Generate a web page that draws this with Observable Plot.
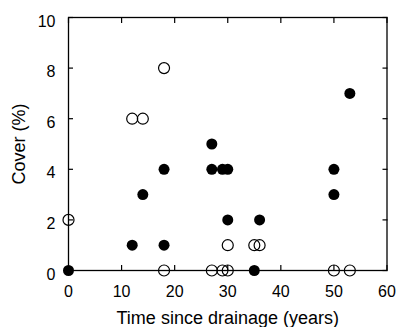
<!DOCTYPE html>
<html>
<head>
<meta charset="utf-8">
<script src="https://cdn.jsdelivr.net/npm/d3@7"></script>
<script src="https://cdn.jsdelivr.net/npm/@observablehq/plot@0.6"></script>
<style>
  html, body { margin: 0; padding: 0; background: white; }
</style>
</head>
<body>
<div id="chart"></div>
<script>
// Filled circles
const filledX = [0, 12, 14, 18, 18, 27, 27, 29, 30, 30, 35, 36, 50, 50, 53];
const filledY = [0, 1, 3, 4, 1, 5, 4, 4, 4, 2, 0, 2, 4, 3, 7];
// Open circles
const openX = [0, 12, 14, 18, 18, 27, 29, 30, 30, 35, 36, 50, 53];
const openY = [2, 6, 6, 8, 0, 0, 0, 0, 1, 1, 1, 0, 0];

const xTicks = [0, 10, 20, 30, 40, 50, 60];
const yTicks = [0, 2, 4, 6, 8, 10];
const xLabel = "Time since drainage (years)";
const yLabel = "Cover (%)";

const filled = filledX.map((x, i) => ({x, y: filledY[i]}));
const open = openX.map((x, i) => ({x, y: openY[i]}));
const noText = () => "";

const chart = Plot.plot({
  width: 401,
  height: 327,
  marginLeft: 68,
  marginRight: 14.5,
  marginTop: 17,
  marginBottom: 57,
  x: {domain: [0, 60]},
  y: {domain: [0, 10]},
  style: {fontFamily: "'Liberation Sans', Arial, sans-serif", fontSize: "16px", color: "black", background: "white"},
  marks: [
    Plot.frame({stroke: "black", strokeWidth: 1.3}),
    // inward ticks
    Plot.axisX({anchor: "bottom", ticks: xTicks, tickSize: 5, dy: -5, tickFormat: noText, label: null, strokeWidth: 1.2}),
    Plot.axisX({anchor: "top", ticks: xTicks, tickSize: 5, dy: 5, tickFormat: noText, label: null, strokeWidth: 1.2}),
    Plot.axisY({anchor: "left", ticks: yTicks, tickSize: 5, dx: 5, tickFormat: noText, label: null, strokeWidth: 1.2}),
    Plot.axisY({anchor: "right", ticks: yTicks, tickSize: 5, dx: -5, tickFormat: noText, label: null, strokeWidth: 1.2}),
    // labels
    Plot.axisX({anchor: "bottom", ticks: xTicks, tickSize: 0, tickPadding: 15, label: xLabel, labelAnchor: "center", labelArrow: "none", labelOffset: 53, fontSize: 16}),
    Plot.axisY({anchor: "left", ticks: yTicks, tickSize: 0, tickPadding: 13, dy: 4, label: yLabel, labelAnchor: "center", labelArrow: "none", labelOffset: 56, fontSize: 16}),
    Plot.dot(open, {x: "x", y: "y", r: 5.5, fill: "none", stroke: "black", strokeWidth: 1.2}),
    Plot.dot(filled, {x: "x", y: "y", r: 5.5, fill: "black", stroke: "none"})
  ]
});
document.getElementById("chart").appendChild(chart);
// axis label font size
chart.querySelectorAll("[aria-label$='axis label']").forEach(g => g.setAttribute("font-size", 18));
</script>
</body>
</html>
